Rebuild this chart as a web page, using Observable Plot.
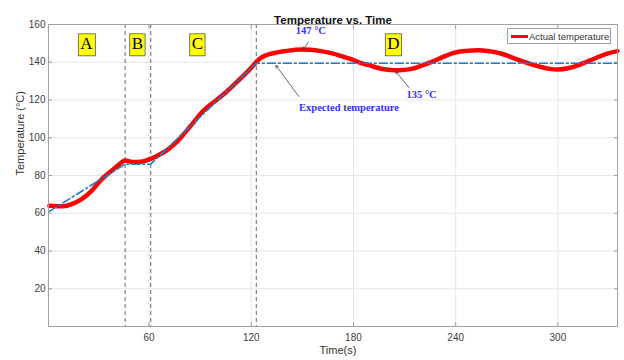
<!DOCTYPE html>
<html><head><meta charset="utf-8">
<script src="https://cdn.jsdelivr.net/npm/d3@7"></script>
<script src="https://cdn.jsdelivr.net/npm/@observablehq/plot@0.6"></script>
<style>
body{margin:0;background:#fff;font-family:"Liberation Sans",Arial,sans-serif;}
#wrap{position:relative;width:624px;height:360px;}
#legend{position:absolute;left:507px;top:28px;width:102px;height:14px;border:1px solid #a0a0a0;background:#fff;font-size:9.5px;color:#333;display:flex;align-items:center;white-space:nowrap;overflow:hidden;}
#legend span.sw{display:inline-block;width:17px;height:3px;background:#ff0000;margin:0 1px 0 3px;flex:none;}
</style></head>
<body><div id="wrap"></div>
<script>
// Actual temperature (red)
const actualTime = [1.5,10,15,20,26,32,38,42,46,50,55,61,66,71,76,81,86,91,96,100,105,110,115,120,123,125,130,135,140,149,155,161,167,173,179,184,190,194,199,204,209,214,220,227,233,239,246,253,260,267,274,282,290,295,300,306,313,319,325,330,335];
const actualTemp = [64,63.7,65,67.2,71.6,77.8,82.5,85.5,88,87.2,87.3,88.8,91,93.7,97.5,102.6,108,113.5,117.5,120.3,124,128.2,132.5,137.1,140.2,141.9,144.1,145.2,145.9,146.8,146.6,145.9,144.8,143.2,141.5,139.7,138.2,137.1,136.2,135.8,135.9,136.5,138.2,140.6,143,145,146,146.4,145.8,144.5,142.2,139.7,137.5,136.5,136.2,136.8,138.8,141,143.2,144.8,145.9];
// Expected temperature (blue dash-dot)
const expectedTime = [1.5,46,61,123,335];
const expectedTemp = [61,86,86,139.5,139.5];
// Phase boundaries
const phaseLines = [46,61,123];
// Phase labels
const phaseNames = ["A","B","C","D"];
const phaseX = [23.3,53.2,88.4,203.5];
const phaseY = [150,150,150,150];
// Annotations
const noteText = ["147 °C","135 °C","Expected temperature"];
const noteX = [155,220,177.4];
const noteY = [156.5,123,116];
const arrowX1 = [153.4,212.5,148];
const arrowY1 = [150.5,126.6,121.8];
const arrowX2 = [150.5,204.9,134.5];
const arrowY2 = [146.8,135.1,138.3];
const xTicks = [60,120,180,240,300];
const yTicks = [20,40,60,80,100,120,140,160];

const actual = actualTime.map((t,i)=>({t,v:actualTemp[i]}));
const expected = expectedTime.map((t,i)=>({t,v:expectedTemp[i]}));
const phases = phaseNames.map((n,i)=>({n,x:phaseX[i],y:phaseY[i]}));
const notes = noteText.map((s,i)=>({s,x:noteX[i],y:noteY[i]}));
const arrows = arrowX1.map((x1,i)=>({x1,y1:arrowY1[i],x2:arrowX2[i],y2:arrowY2[i]}));

const tickStyle = {fontSize:10, fill:"#404040", fontFamily:"Liberation Sans, Arial, sans-serif"};
const chart = Plot.plot({
  width:624, height:360,
  marginLeft:48, marginRight:7, marginTop:24, marginBottom:34,
  x:{domain:[1,335]},
  y:{domain:[0,160]},
  style:{fontFamily:"Liberation Sans, Arial, sans-serif", background:"#fff", overflow:"visible"},
  marks:[
    Plot.gridX(xTicks,{stroke:"#e6e6e6", strokeOpacity:1}),
    Plot.gridY(yTicks,{stroke:"#e6e6e6", strokeOpacity:1}),
    Plot.axisX(xTicks,{anchor:"bottom", tickSize:-4, tickPadding:11, stroke:"#a0a0a0", label:null, ...tickStyle}),
    Plot.axisX(xTicks,{anchor:"top", tickSize:-4, tickFormat:()=>"", stroke:"#a0a0a0", label:null}),
    Plot.axisY(yTicks,{anchor:"left", tickSize:-4, tickPadding:7, stroke:"#a0a0a0", label:null, ...tickStyle}),
    Plot.axisY(yTicks,{anchor:"right", tickSize:-4, tickFormat:()=>"", stroke:"#a0a0a0", label:null}),
    Plot.ruleX(phaseLines,{stroke:"#808080", strokeWidth:1.2, strokeDasharray:"4,3"}),
    Plot.line(actual,{x:"t", y:"v", stroke:"#ff0000", strokeWidth:4.5, curve:"monotone-x"}),
    Plot.line(expected,{x:"t", y:"v", stroke:"#1f7cc4", strokeWidth:1.6, strokeDasharray:"8,3,2,3"}),
    Plot.frame({stroke:"#a0a0a0"}),
    Plot.text(phases,{x:"x", y:"y", text:"n", fontSize:17, fontFamily:"Liberation Serif, serif", fill:"#000", className:"phase"}),
    Plot.arrow(arrows,{x1:"x1", y1:"y1", x2:"x2", y2:"y2", stroke:"#444", strokeWidth:0.8, headLength:5}),
    Plot.text(notes,{x:"x", y:"y", text:"s", fill:"#3333ee", fontWeight:"bold", fontSize:10.5, fontFamily:"Liberation Serif, serif"}),
    Plot.text(["Temperature vs. Time"],{frameAnchor:"top", dy:-9, fontWeight:"bold", fontSize:11.5, fill:"#111"}),
    Plot.text(["Time(s)"],{frameAnchor:"bottom", dx:5, dy:27, fontSize:11, fill:"#333"}),
    Plot.text(["Temperature (°C)"],{frameAnchor:"left", rotate:-90, dx:-28, fontSize:11, fill:"#333"})
  ]
});
document.getElementById("wrap").appendChild(chart);
// yellow boxes behind phase labels
d3.select(chart).selectAll("g.phase text").each(function(){
  const b = this.getBBox();
  d3.select(this.parentNode).insert("rect", () => this)
    .attr("x", b.x-2).attr("y", b.y).attr("width", b.width+4).attr("height", b.height+3)
    .attr("fill", "#ffff00").attr("stroke", "#555").attr("stroke-width", 0.8)
    .attr("transform", this.getAttribute("transform"));
});
const lg = document.createElement("div");
lg.id = "legend";
lg.innerHTML = '<span class="sw"></span>Actual temperature';
document.getElementById("wrap").appendChild(lg);
</script></body></html>
